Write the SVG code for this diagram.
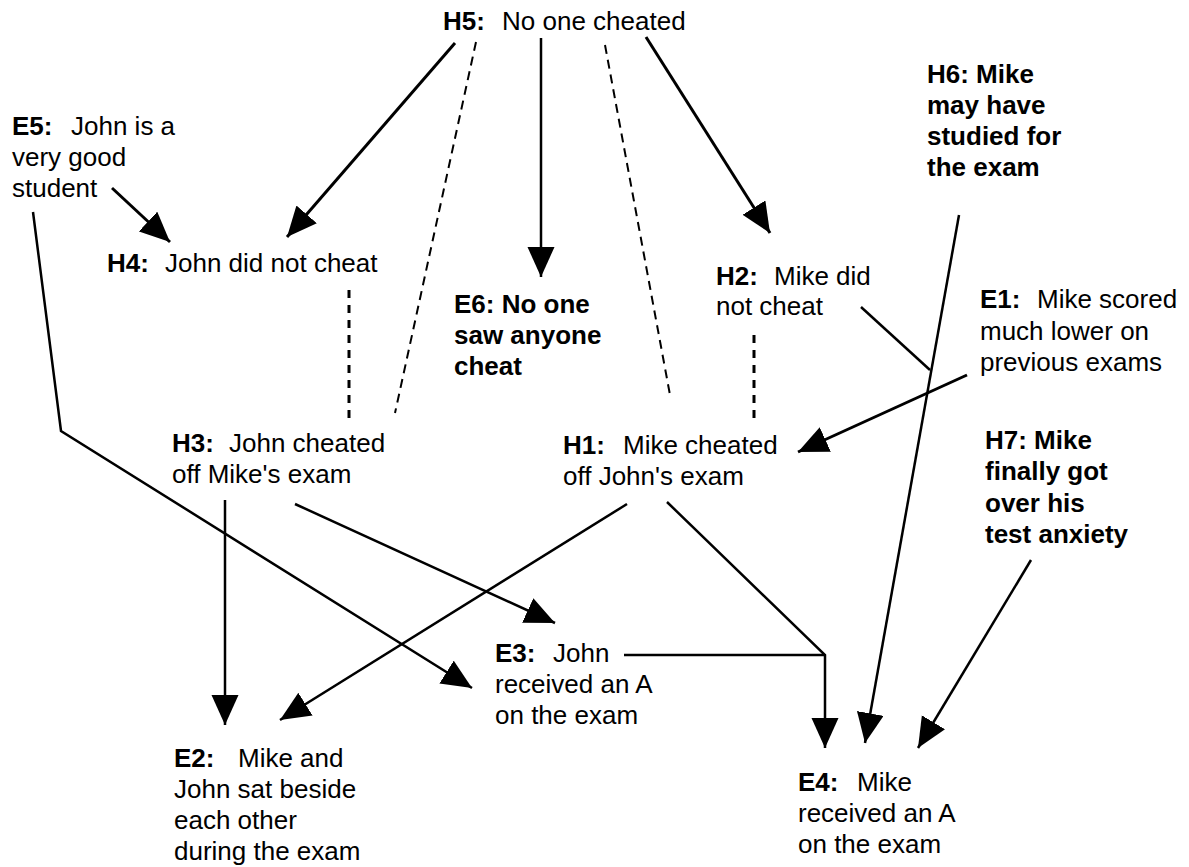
<svg xmlns="http://www.w3.org/2000/svg" width="1189" height="867" viewBox="0 0 1189 867">
  <style>
    text { font-family: "Liberation Sans", Arial, Helvetica, sans-serif; font-size: 26px; fill: #000; }
    .b { font-weight: bold; }
    .link { fill: none; stroke: #000; stroke-width: 3; }
    .thin { stroke-width: 2.5; }
    .dash-thin { fill: none; stroke: #000; stroke-width: 2; stroke-dasharray: 9 6; }
    .dash-thick { fill: none; stroke: #000; stroke-width: 3; stroke-dasharray: 8 7; }
  </style>
  <defs>
    <marker id="head" markerUnits="userSpaceOnUse" markerWidth="32" markerHeight="28" refX="30" refY="13.5" orient="auto">
      <path d="M0,0 L30,13.5 L0,27 z" fill="#000"/>
    </marker>
  </defs>
  <rect width="1189" height="867" fill="#fff"/>

  <g id="connectors">
    <!-- support arrows -->
    <line class="link" x1="455" y1="43" x2="287" y2="237" marker-end="url(#head)"/>
    <line class="link thin" x1="541" y1="38" x2="541" y2="277" marker-end="url(#head)"/>
    <line class="link" x1="646" y1="37" x2="770" y2="233" marker-end="url(#head)"/>
    <line class="link" x1="112" y1="188" x2="170" y2="242" marker-end="url(#head)"/>
    <polyline class="link thin" points="33,212 61,431 472,688" marker-end="url(#head)"/>
    <line class="link thin" x1="225" y1="500" x2="225" y2="725" marker-end="url(#head)"/>
    <line class="link thin" x1="295" y1="504" x2="555" y2="623" marker-end="url(#head)"/>
    <line class="link thin" x1="627" y1="504" x2="280" y2="720" marker-end="url(#head)"/>
    <line class="link" x1="967" y1="375" x2="798" y2="452" marker-end="url(#head)"/>
    <line class="link thin" x1="861" y1="307" x2="930" y2="370"/>
    <line class="link thin" x1="959" y1="215" x2="865" y2="743" marker-end="url(#head)"/>
    <line class="link thin" x1="1031" y1="560" x2="918" y2="748" marker-end="url(#head)"/>
    <!-- joint support for E4 -->
    <line class="link thin" x1="624" y1="655" x2="825" y2="655"/>
    <polyline class="link thin" points="667,502 825,655 825,748" marker-end="url(#head)"/>
    <!-- contradiction links -->
    <line class="dash-thin" x1="476" y1="42" x2="395" y2="413"/>
    <line class="dash-thin" x1="605" y1="45" x2="670" y2="395"/>
    <line class="dash-thick" x1="349" y1="290" x2="349" y2="423"/>
    <line class="dash-thick" x1="754" y1="335" x2="754" y2="420"/>
  </g>

  <g id="H5">
    <text x="443" y="30"><tspan class="b">H5:</tspan><tspan x="502">No one cheated</tspan></text>
  </g>
  <g id="E5">
    <text x="12" y="135"><tspan class="b">E5:</tspan><tspan x="71">John is a</tspan></text>
    <text x="12" y="166">very good</text>
    <text x="12" y="197">student</text>
  </g>
  <g id="H4">
    <text x="107" y="272"><tspan class="b">H4:</tspan><tspan x="165">John did not cheat</tspan></text>
  </g>
  <g id="E6">
    <text class="b" x="454" y="313">E6: No one</text>
    <text class="b" x="454" y="344">saw anyone</text>
    <text class="b" x="454" y="375">cheat</text>
  </g>
  <g id="H2">
    <text x="716" y="285"><tspan class="b">H2:</tspan><tspan x="774">Mike did</tspan></text>
    <text x="716" y="315">not cheat</text>
  </g>
  <g id="H6">
    <text class="b" x="927" y="83">H6: Mike</text>
    <text class="b" x="927" y="114">may have</text>
    <text class="b" x="927" y="145">studied for</text>
    <text class="b" x="927" y="176">the exam</text>
  </g>
  <g id="E1">
    <text x="980" y="308"><tspan class="b">E1:</tspan><tspan x="1037">Mike scored</tspan></text>
    <text x="980" y="340">much lower on</text>
    <text x="980" y="371">previous exams</text>
  </g>
  <g id="H3">
    <text x="172" y="452"><tspan class="b">H3:</tspan><tspan x="229">John cheated</tspan></text>
    <text x="172" y="483">off Mike's exam</text>
  </g>
  <g id="H1">
    <text x="563" y="454"><tspan class="b">H1:</tspan><tspan x="623">Mike cheated</tspan></text>
    <text x="563" y="485">off John's exam</text>
  </g>
  <g id="H7">
    <text class="b" x="985" y="449">H7: Mike</text>
    <text class="b" x="985" y="480">finally got</text>
    <text class="b" x="985" y="512">over his</text>
    <text class="b" x="985" y="543">test anxiety</text>
  </g>
  <g id="E3">
    <text x="495" y="662"><tspan class="b">E3:</tspan><tspan x="553">John</tspan></text>
    <text x="495" y="693">received an A</text>
    <text x="495" y="724">on the exam</text>
  </g>
  <g id="E2">
    <text x="174" y="767"><tspan class="b">E2:</tspan><tspan x="238">Mike and</tspan></text>
    <text x="174" y="798">John sat beside</text>
    <text x="174" y="829">each other</text>
    <text x="174" y="860">during the exam</text>
  </g>
  <g id="E4">
    <text x="798" y="791"><tspan class="b">E4:</tspan><tspan x="857">Mike</tspan></text>
    <text x="798" y="822">received an A</text>
    <text x="798" y="853">on the exam</text>
  </g>
</svg>
